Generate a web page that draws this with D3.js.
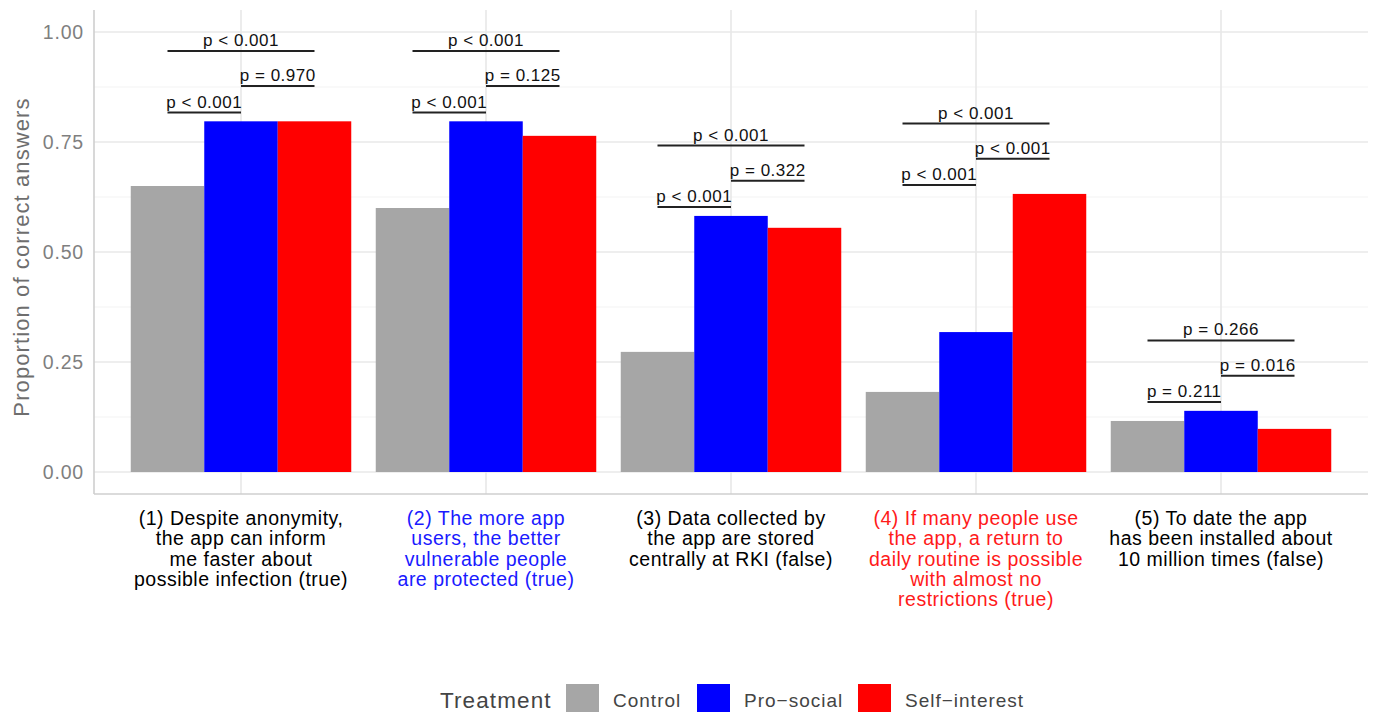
<!DOCTYPE html>
<html>
<head>
<meta charset="utf-8">
<script src="https://cdn.jsdelivr.net/npm/d3@7"></script>
<style>
  html, body { margin: 0; padding: 0; background: #fff; }
  svg { display: block; font-family: "Liberation Sans", Arial, Helvetica, sans-serif; }
</style>
</head>
<body>
<svg id="chart" width="1375" height="712"></svg>
<script>
// Survey items (x categories), each label split into lines
const categories = ["q1", "q2", "q3", "q4", "q5"];
const categoryLines = [
  ["(1) Despite anonymity,", "the app can inform", "me faster about", "possible infection (true)"],
  ["(2) The more app", "users, the better", "vulnerable people", "are protected (true)"],
  ["(3) Data collected by", "the app are stored", "centrally at RKI (false)"],
  ["(4) If many people use", "the app, a return to", "daily routine is possible", "with almost no", "restrictions (true)"],
  ["(5) To date the app", "has been installed about", "10 million times (false)"]
];
const categoryColors = ["#000000", "#1a1aff", "#000000", "#ff1a1a", "#000000"];

// Treatments
const treatments = ["Control", "Pro\u2212social", "Self\u2212interest"];
const treatmentColors = ["#a6a6a6", "#0000ff", "#ff0000"];

// Proportion of correct answers per item
const controlValues      = [0.650, 0.600, 0.273, 0.182, 0.116];
const proSocialValues    = [0.797, 0.797, 0.582, 0.318, 0.139];
const selfInterestValues = [0.797, 0.764, 0.555, 0.632, 0.098];

// Pairwise test labels: [control vs pro-social, pro-social vs self-interest, control vs self-interest]
const pControlPro  = ["p < 0.001", "p < 0.001", "p < 0.001", "p < 0.001", "p = 0.211"];
const pProSelf     = ["p = 0.970", "p = 0.125", "p = 0.322", "p < 0.001", "p = 0.016"];
const pControlSelf = ["p < 0.001", "p < 0.001", "p < 0.001", "p < 0.001", "p = 0.266"];

const yTicks = [0, 0.25, 0.5, 0.75, 1.0];
const yMinor = [0.125, 0.375, 0.625, 0.875];

const series = [controlValues, proSocialValues, selfInterestValues];
const rows = categories.map((c, i) => ({
  cat: c,
  values: treatments.map((t, j) => ({ t, v: series[j][i] }))
}));

const svg = d3.select("#chart");
const panel = { left: 94, right: 1368, top: 10, bottom: 494 };

// Discrete x positions with 0.6 category expansion on each side
const x = d3.scalePoint().domain(categories).range([panel.left, panel.right]).padding(0.6);
const groupWidth = x.step() * 0.9;
const xInner = d3.scaleBand().domain(treatments).range([-groupWidth / 2, groupWidth / 2]);

const y = d3.scaleLinear().domain([-0.05, 1.05]).range([panel.bottom, panel.top]);

// Grid
const grid = svg.append("g");
grid.selectAll(".minor").data(yMinor).join("line")
  .attr("x1", panel.left).attr("x2", panel.right)
  .attr("y1", d => y(d)).attr("y2", d => y(d))
  .attr("stroke", "#f3f3f3").attr("stroke-width", 1);
grid.selectAll(".major").data(yTicks).join("line")
  .attr("x1", panel.left).attr("x2", panel.right)
  .attr("y1", d => y(d)).attr("y2", d => y(d))
  .attr("stroke", "#e8e8e8").attr("stroke-width", 1.6);
grid.selectAll(".vmajor").data(categories).join("line")
  .attr("x1", d => x(d)).attr("x2", d => x(d))
  .attr("y1", panel.top).attr("y2", panel.bottom)
  .attr("stroke", "#e8e8e8").attr("stroke-width", 1.6);

// Bars
const groups = svg.append("g").selectAll("g").data(rows).join("g")
  .attr("transform", d => `translate(${x(d.cat)},0)`);
groups.selectAll("rect").data(d => d.values).join("rect")
  .attr("x", d => xInner(d.t))
  .attr("width", xInner.bandwidth())
  .attr("y", d => y(d.v))
  .attr("height", d => y(0) - y(d.v))
  .attr("fill", (d, i) => treatmentColors[i]);

// Axis lines
svg.append("line").attr("x1", panel.left).attr("x2", panel.left)
  .attr("y1", panel.top).attr("y2", panel.bottom)
  .attr("stroke", "#cfcfcf").attr("stroke-width", 1.6);
svg.append("line").attr("x1", panel.left).attr("x2", panel.right)
  .attr("y1", panel.bottom).attr("y2", panel.bottom)
  .attr("stroke", "#cfcfcf").attr("stroke-width", 1.6);

// Y axis labels
const yAxis = d3.axisLeft(y).tickValues(yTicks).tickFormat(d3.format(".2f")).tickSize(0).tickPadding(10);
const yG = svg.append("g").attr("transform", `translate(${panel.left},0)`).call(yAxis);
yG.select(".domain").remove();
yG.selectAll("text").attr("font-size", 19.5).attr("fill", "#7f7f7f")
  .attr("letter-spacing", 0.8)
  .attr("font-family", "Liberation Sans, Arial, sans-serif");

svg.append("text")
  .attr("transform", `translate(29,${y(0.5) + 5}) rotate(-90)`)
  .attr("text-anchor", "middle")
  .attr("font-size", 22).attr("letter-spacing", 1.1).attr("fill", "#6e6e6e")
  .text("Proportion of correct answers");

// X category labels
const xLab = svg.append("g").selectAll("text").data(categories).join("text")
  .attr("x", d => x(d))
  .attr("y", 525)
  .attr("text-anchor", "middle")
  .attr("font-size", 19.5)
  .attr("letter-spacing", 0.5)
  .attr("fill", (d, i) => categoryColors[i]);
xLab.selectAll("tspan").data((d, i) => categoryLines[i]).join("tspan")
  .attr("x", function () { return this.parentNode.getAttribute("x"); })
  .attr("dy", (d, k) => k === 0 ? 0 : 20.3)
  .text(d => d);

// Significance brackets
const brackets = svg.append("g");
rows.forEach((r, i) => {
  const top = d3.max(r.values, d => d.v);
  const bx = j => x(r.cat) + xInner(treatments[j]) + xInner.bandwidth() / 2;
  const specs = [
    { a: 0, b: 1, h: top + 0.02, label: pControlPro[i] },
    { a: 1, b: 2, h: top + 0.08, label: pProSelf[i] },
    { a: 0, b: 2, h: top + 0.16, label: pControlSelf[i] }
  ];
  specs.forEach(s => {
    brackets.append("line")
      .attr("x1", bx(s.a)).attr("x2", bx(s.b))
      .attr("y1", y(s.h)).attr("y2", y(s.h))
      .attr("stroke", "#222").attr("stroke-width", 2);
    brackets.append("text")
      .attr("x", (bx(s.a) + bx(s.b)) / 2)
      .attr("y", y(s.h) - 5)
      .attr("text-anchor", "middle")
      .attr("font-size", 17).attr("letter-spacing", 0.5).attr("fill", "#111")
      .text(s.label);
  });
});

// Legend
const legend = svg.append("g");
legend.append("text").attr("x", 440).attr("y", 708)
  .attr("font-size", 22.5).attr("letter-spacing", 1.1).attr("fill", "#444").text("Treatment");
const legendX = [566, 697, 858];
treatments.forEach((t, i) => {
  legend.append("rect").attr("x", legendX[i]).attr("y", 684)
    .attr("width", 33).attr("height", 33).attr("fill", treatmentColors[i]);
  legend.append("text").attr("x", legendX[i] + 47).attr("y", 707)
    .attr("font-size", 19).attr("letter-spacing", 1.0).attr("fill", "#444").text(t);
});
</script>
</body>
</html>
